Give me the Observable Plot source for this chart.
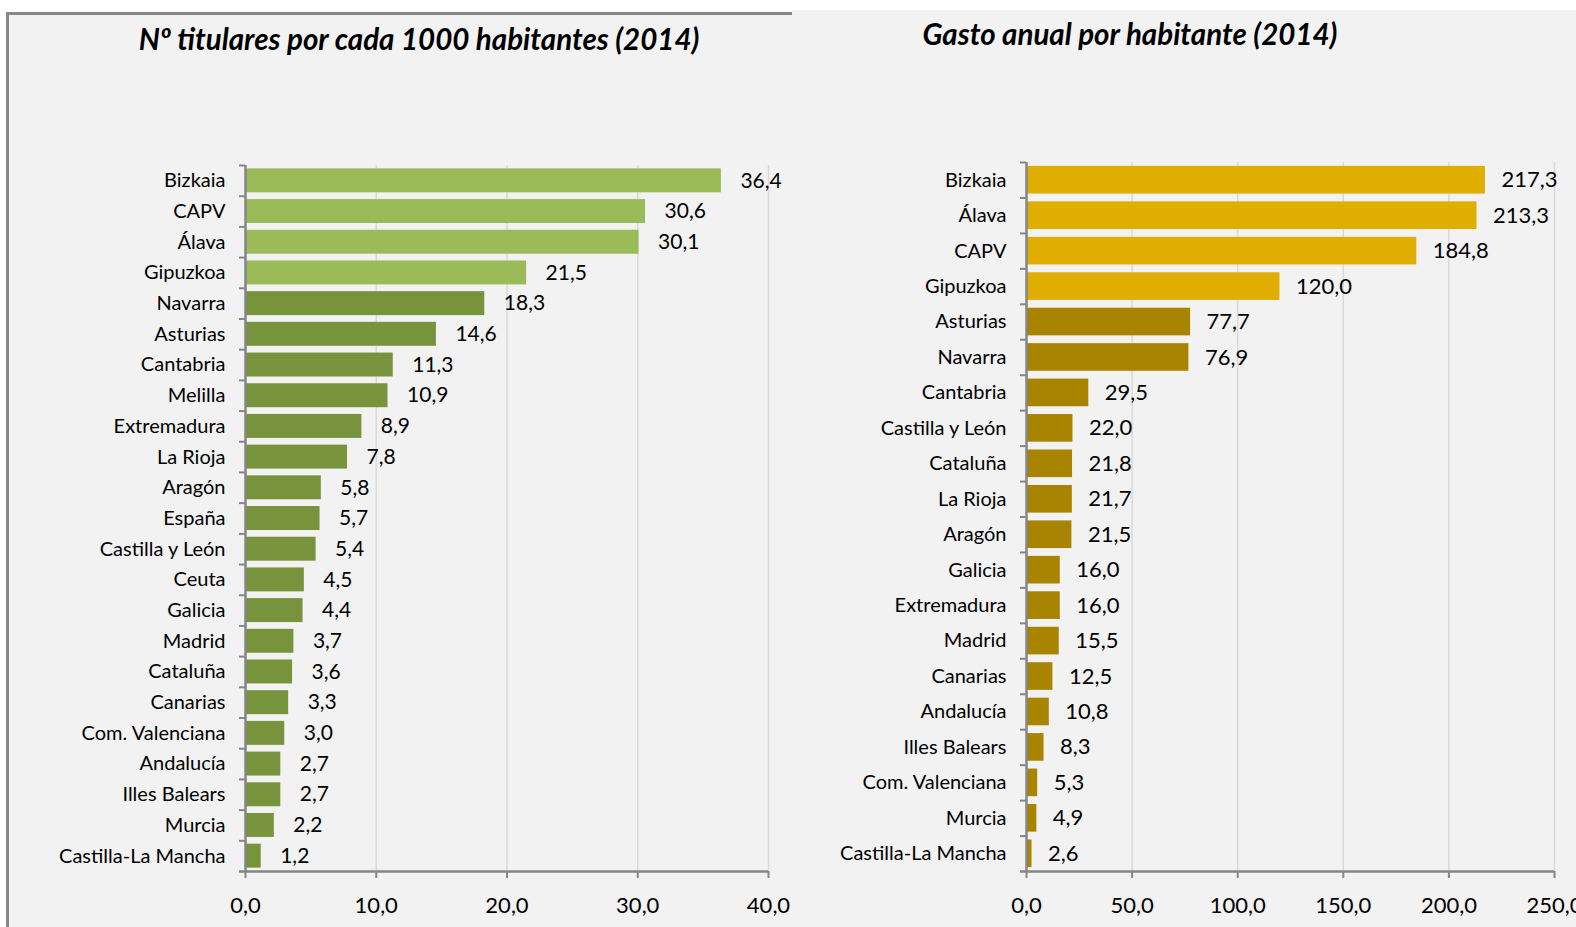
<!DOCTYPE html>
<html>
<head>
<meta charset="utf-8">
<script src="https://cdn.jsdelivr.net/npm/d3@7"></script>
<script src="https://cdn.jsdelivr.net/npm/@observablehq/plot@0.6"></script>
<style>
  html, body { margin: 0; padding: 0; background: #ffffff; }
  #page { position: relative; width: 1576px; height: 927px; overflow: hidden; font-family: Lato, "Open Sans", sans-serif; }
  .panel { position: absolute; background: #f2f2f2; }
  #leftPanel { left: 6px; top: 12px; width: 786px; height: 915px; border-left: 3px solid #888888; border-top: 3px solid #888888; box-sizing: border-box; }
  #rightPanel { left: 792px; top: 10px; width: 784px; height: 917px; }
  .title { position: absolute; font-weight: bold; font-style: italic; font-size: 29.5px; color: #000; white-space: nowrap; transform: translate(-50%, -50%); }
  .chart { position: absolute; top: 0; }
</style>
</head>
<body>
<div id="page">
  <div id="leftPanel" class="panel"></div>
  <div id="rightPanel" class="panel"></div>
  <div class="title" style="left:419px; top:38px;">Nº titulares por cada 1000 habitantes (2014)</div>
  <div class="title" style="left:1130px; top:33px;">Gasto anual por habitante (2014)</div>
  <div id="left" class="chart" style="left:0px;"></div>
  <div id="right" class="chart" style="left:788px;"></div>
</div>
<script>
// ---- Left chart data: Nº titulares por cada 1000 habitantes (2014)
const titularesRegiones = ["Bizkaia","CAPV","Álava","Gipuzkoa","Navarra","Asturias","Cantabria","Melilla","Extremadura","La Rioja","Aragón","España","Castilla y León","Ceuta","Galicia","Madrid","Cataluña","Canarias","Com. Valenciana","Andalucía","Illes Balears","Murcia","Castilla-La Mancha"];
const titularesValores = [36.4,30.6,30.1,21.5,18.3,14.6,11.3,10.9,8.9,7.8,5.8,5.7,5.4,4.5,4.4,3.7,3.6,3.3,3.0,2.7,2.7,2.2,1.2];
const titularesTicks = [0,10,20,30,40];

// ---- Right chart data: Gasto anual por habitante (2014)
const gastoRegiones = ["Bizkaia","Álava","CAPV","Gipuzkoa","Asturias","Navarra","Cantabria","Castilla y León","Cataluña","La Rioja","Aragón","Galicia","Extremadura","Madrid","Canarias","Andalucía","Illes Balears","Com. Valenciana","Murcia","Castilla-La Mancha"];
const gastoValores = [217.3,213.3,184.8,120.0,77.7,76.9,29.5,22.0,21.8,21.7,21.5,16.0,16.0,15.5,12.5,10.8,8.3,5.3,4.9,2.6];
const gastoTicks = [0,50,100,150,200,250];

// Basque territories highlighted in a lighter colour
const territoriosVascos = ["Bizkaia","CAPV","Álava","Gipuzkoa"];

const fmt = v => d3.format(".1f")(v).replace(".", ",");

function barChart({regiones, valores, ticks, light, dark, width, height, mt, mb, ml, mr, valueSize, valueDx}) {
  const data = regiones.map((r, i) => ({region: r, valor: valores[i]}));
  const n = regiones.length;
  const step = (height - mt - mb) / n;
  const axisColor = "#868686";
  const font = "Lato, 'Open Sans', sans-serif";
  return Plot.plot({
    width, height,
    marginTop: mt, marginBottom: mb, marginLeft: ml, marginRight: mr,
    style: {background: "transparent", fontFamily: font, color: "#000", overflow: "visible"},
    x: {domain: [ticks[0], ticks[ticks.length - 1]], nice: false},
    y: {domain: regiones, paddingInner: 0.22, paddingOuter: 0.11, align: 0.5, round: false},
    marks: [
      Plot.ruleX(ticks.slice(1), {stroke: "#d9d9d9", strokeWidth: 1.5}),
      Plot.barX(data, {
        x: "valor", y: "region",
        fill: d => territoriosVascos.includes(d.region) ? light : dark
      }),
      Plot.text(data, {
        x: "valor", y: "region", text: d => fmt(d.valor),
        dx: valueDx, textAnchor: "start", fontSize: valueSize, fill: "#000"
      }),
      // y axis line and category-boundary tick marks
      Plot.ruleX([ticks[0]], {stroke: axisColor, strokeWidth: 2.5}),
      Plot.ruleY(regiones, {y: d => d, x1: ticks[0], x2: ticks[0], insetLeft: -6, dy: -step / 2, stroke: axisColor, strokeWidth: 2}),
      Plot.ruleY(regiones.slice(-1), {y: d => d, x1: ticks[0], x2: ticks[ticks.length - 1], insetLeft: -6, dy: step / 2, stroke: axisColor, strokeWidth: 2.5}),
      Plot.axisY({tickSize: 0, tickPadding: 20, fontSize: 20, label: null, fill: "#000"}),
      Plot.axisX({ticks, tickFormat: fmt, tickSize: 7, tickPadding: 19, fontSize: 22, label: null, stroke: axisColor, strokeWidth: 2, fill: "#000"})
    ]
  });
}

document.getElementById("left").appendChild(barChart({
  regiones: titularesRegiones, valores: titularesValores, ticks: titularesTicks,
  light: "#9bbb59", dark: "#77933c",
  width: 810, height: 927, mt: 165, mb: 56, ml: 245, mr: 42, valueSize: 21, valueDx: 19
}));

document.getElementById("right").appendChild(barChart({
  regiones: gastoRegiones, valores: gastoValores, ticks: gastoTicks,
  light: "#dfae00", dark: "#a88400",
  width: 788, height: 927, mt: 162, mb: 56, ml: 238, mr: 22, valueSize: 22, valueDx: 16
}));
</script>
</body>
</html>
